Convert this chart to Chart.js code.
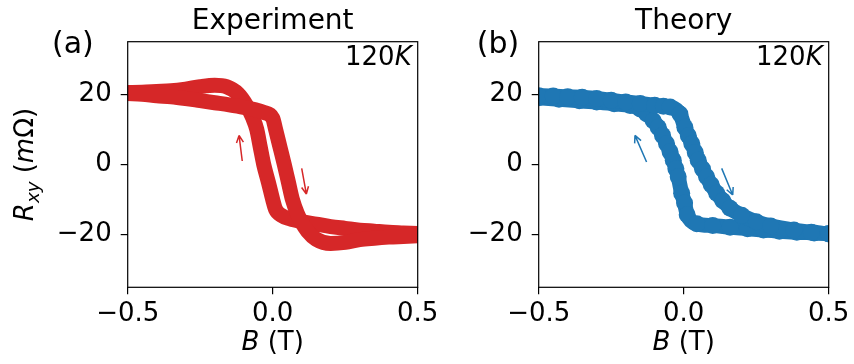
<!DOCTYPE html>
<html>
<head>
<meta charset="utf-8">
<script src="https://cdn.jsdelivr.net/npm/chart.js@4.4.1/dist/chart.umd.min.js"></script>
<style>
  body { margin: 0; background: #fff; }
  #wrap { position: relative; width: 854px; height: 364px; }
  canvas { position: absolute; top: 0; }
</style>
</head>
<body>
<div id="wrap">
  <canvas id="expChart" width="454" height="364" style="left:0"></canvas>
  <canvas id="theoChart" width="400" height="364" style="left:454px"></canvas>
</div>
<script>
const xTicks = [-0.5, 0, 0.5];
const yTicks = [-20, 0, 20];

// Experiment, sweep B up (R goes + -> -)
const expUpB = [-0.5, -0.45, -0.4, -0.35, -0.3, -0.25, -0.2, -0.15, -0.1, -0.06, -0.03, 0.0, 0.01, 0.025, 0.04, 0.054, 0.068, 0.085, 0.1, 0.12, 0.15, 0.2, 0.25, 0.3, 0.35, 0.4, 0.45, 0.5];
const expUpR = [20.2, 20.0, 19.6, 19.3, 18.8, 18.2, 17.6, 17.0, 16.3, 15.6, 14.8, 13.2, 10.0, 5.0, 0.0, -5.0, -10.0, -14.0, -16.5, -19.0, -21.3, -22.5, -22.2, -21.4, -21.0, -20.7, -20.5, -20.3];
// Experiment, sweep B down (R goes - -> +)
const expDownB = [-0.5, -0.45, -0.4, -0.35, -0.3, -0.25, -0.2, -0.16, -0.12, -0.09, -0.07, -0.055, -0.043, -0.031, -0.015, 0.0, 0.01, 0.03, 0.06, 0.1, 0.15, 0.2, 0.25, 0.3, 0.35, 0.4, 0.45, 0.5];
const expDownR = [20.5, 20.6, 20.8, 21.0, 21.5, 22.2, 22.6, 22.2, 20.2, 16.8, 13.5, 10.0, 5.0, 0.0, -5.0, -10.0, -12.8, -14.5, -15.5, -16.3, -17.0, -17.7, -18.2, -18.7, -19.0, -19.3, -19.5, -19.7];

// Theory, sweep B up
const theoUpB = [-0.5, -0.45, -0.4, -0.35, -0.3, -0.25, -0.2, -0.15, -0.1, -0.07, -0.047, -0.013, 0.004, 0.016, 0.028, 0.04, 0.05, 0.065, 0.079, 0.095, 0.114, 0.135, 0.16, 0.2, 0.25, 0.3, 0.38, 0.44, 0.5];
const theoUpR = [19.6, 19.5, 19.3, 19.2, 18.8, 18.3, 17.8, 17.4, 16.9, 16.6, 16.4, 14.4, 10.6, 8.2, 5.9, 3.4, 1.2, -1.3, -3.5, -5.8, -8.2, -10.3, -12.5, -14.5, -16.3, -17.5, -18.7, -19.3, -19.8];
// Theory, sweep B down
const theoDownB = [-0.5, -0.43, -0.36, -0.3, -0.24, -0.185, -0.15, -0.128, -0.105, -0.088, -0.073, -0.059, -0.047, -0.036, -0.027, -0.019, -0.007, 0.003, 0.012, 0.045, 0.1, 0.16, 0.22, 0.275, 0.33, 0.39, 0.45, 0.5];
const theoDownR = [19.0, 18.6, 18.2, 17.8, 17.3, 16.8, 15.8, 14.5, 12.5, 10.6, 8.3, 5.9, 3.6, 1.2, -1.2, -3.5, -8.2, -11.0, -14.3, -16.9, -17.4, -17.9, -18.3, -18.7, -19.0, -19.3, -19.5, -19.7];

// sweep-direction arrows: [B tail, R tail, B head, R head]
const expArrows = [[-0.105, 1.0, -0.116, 8.3], [0.1, -1.1, 0.116, -8.4]];
const theoArrows = [[-0.128, 0.7, -0.168, 8.3], [0.131, -1.1, 0.169, -8.7]];

const RED = "#d62728";
const BLUE = "#1f77b4";
const FONT = "'DejaVu Sans', sans-serif";

function pts(bs, rs) {
    return bs.map((b, i) => ({ x: b, y: rs[i] }));
}

function minus(v, digits) {
    const s = Math.abs(v).toFixed(digits);
    return v < 0 ? "\u2212" + s : s;
}

// mixed italic / subscript text
function drawRich(ctx, parts, x, y, size, align) {
    const fontOf = p => {
        const sub = p[1].includes("s");
        const it = p[1].includes("i");
        return (it ? "italic " : "") + (sub ? size * 0.7 : size) + "px " + FONT;
    };
    let w = 0;
    parts.forEach(p => { ctx.font = fontOf(p); w += ctx.measureText(p[0]).width; });
    let cx = align === "center" ? x - w / 2 : align === "right" ? x - w : x;
    ctx.textAlign = "left";
    ctx.textBaseline = "alphabetic";
    parts.forEach(p => {
        ctx.font = fontOf(p);
        const dy = p[1].includes("s") ? size * 0.22 : 0;
        ctx.fillText(p[0], cx, y + dy);
        cx += ctx.measureText(p[0]).width;
    });
}

const panelDeco = {
    id: "panelDeco",
    afterDraw(chart, args, opts) {
        const ctx = chart.ctx;
        const a = chart.chartArea;
        const xs = chart.scales.x;
        const ys = chart.scales.y;
        ctx.save();
        ctx.strokeStyle = "#000";
        ctx.lineWidth = 1.2;
        ctx.strokeRect(a.left, a.top, a.right - a.left, a.bottom - a.top);

        // arrows
        ctx.strokeStyle = opts.color;
        ctx.lineWidth = 1.5;
        opts.arrows.forEach(([b0, r0, b1, r1]) => {
            const x0 = xs.getPixelForValue(b0), y0 = ys.getPixelForValue(r0);
            const x1 = xs.getPixelForValue(b1), y1 = ys.getPixelForValue(r1);
            const ang = Math.atan2(y1 - y0, x1 - x0);
            ctx.beginPath();
            ctx.moveTo(x0, y0);
            ctx.lineTo(x1, y1);
            [-1, 1].forEach(s => {
                ctx.moveTo(x1, y1);
                ctx.lineTo(x1 - 8 * Math.cos(ang + s * 0.45), y1 - 8 * Math.sin(ang + s * 0.45));
            });
            ctx.stroke();
        });

        ctx.fillStyle = "#000";
        const cx = (a.left + a.right) / 2;
        drawRich(ctx, [[opts.title, ""]], cx, 28.5, 28, "center");
        drawRich(ctx, [[opts.letter, ""]], opts.letterX, 53, 30, "left");
        drawRich(ctx, [["120", ""], ["K", "i"]], a.right - 6, 65, 26, "right");
        drawRich(ctx, [["B", "i"], [" (T)", ""]], cx, 350, 26, "center");

        if (opts.yLabel) {
            ctx.translate(33, (a.top + a.bottom) / 2);
            ctx.rotate(-Math.PI / 2);
            drawRich(ctx, [["R", "i"], ["xy", "si"], [" (", ""], ["m", "i"], ["\u03A9", ""], [")", ""]], 0, 0, 26, "center");
        }
        ctx.restore();
    }
};

function makeChart(id, datasets, deco, plotLeft, plotRight, canvasW) {
    const tickFont = { family: FONT, size: 26 };
    return new Chart(document.getElementById(id), {
        type: "scatter",
        data: { datasets },
        options: {
            responsive: false,
            animation: false,
            devicePixelRatio: 1,
            layout: { padding: { top: 41.7, right: canvasW - plotRight, bottom: 0, left: 0 } },
            plugins: { legend: { display: false }, tooltip: { enabled: false }, panelDeco: deco },
            scales: {
                x: {
                    type: "linear", min: -0.5, max: 0.5,
                    afterBuildTicks: s => { s.ticks = xTicks.map(v => ({ value: v })); },
                    afterFit: s => { s.height = 364 - 287.3; },
                    ticks: { font: tickFont, color: "#000", padding: 4, maxRotation: 0, callback: v => minus(v, 1) },
                    grid: { drawOnChartArea: false, drawTicks: true, tickLength: 7, color: "#000", lineWidth: 1.2 },
                    border: { display: false }
                },
                y: {
                    type: "linear", min: -35, max: 35,
                    afterBuildTicks: s => { s.ticks = yTicks.map(v => ({ value: v })); },
                    afterFit: s => { s.width = plotLeft; },
                    ticks: { font: tickFont, color: "#000", padding: 9, callback: v => minus(v, 0) },
                    grid: { drawOnChartArea: false, drawTicks: true, tickLength: 7, color: "#000", lineWidth: 1.2 },
                    border: { display: false }
                }
            }
        },
        plugins: [panelDeco]
    });
}

function expSet(bs, rs) {
    return {
        data: pts(bs, rs), showLine: true, borderColor: RED, borderWidth: 15,
        borderCapStyle: "round", borderJoinStyle: "round", cubicInterpolationMode: "monotone",
        pointRadius: 0
    };
}

function theoSet(bs, rs) {
    return {
        data: pts(bs, rs), showLine: true, borderColor: BLUE, borderWidth: 15,
        borderCapStyle: "round", borderJoinStyle: "round", cubicInterpolationMode: "monotone",
        pointRadius: 8.5, pointBackgroundColor: BLUE, pointBorderWidth: 0
    };
}

makeChart("expChart", [expSet(expUpB, expUpR), expSet(expDownB, expDownR)],
    { title: "Experiment", letter: "(a)", letterX: 52, color: RED, arrows: expArrows, yLabel: true },
    127.7, 417.7, 454);

makeChart("theoChart", [theoSet(theoUpB, theoUpR), theoSet(theoDownB, theoDownR)],
    { title: "Theory", letter: "(b)", letterX: 22.7, color: BLUE, arrows: theoArrows, yLabel: false },
    84.7, 374.7, 400);
</script>
</body>
</html>
